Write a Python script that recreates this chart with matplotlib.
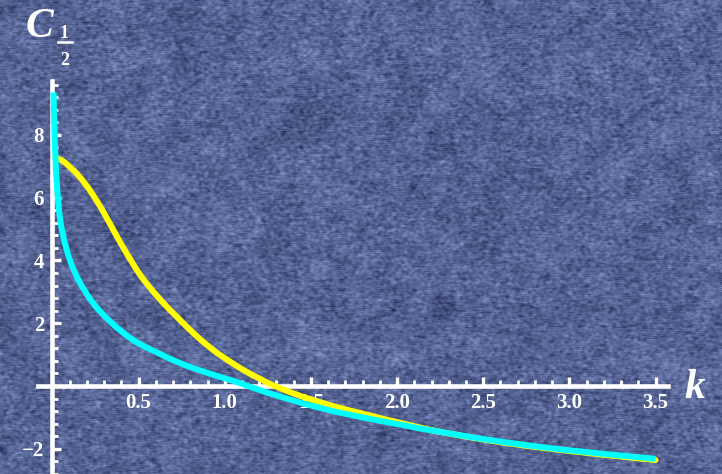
import numpy as np
import matplotlib
matplotlib.use('Agg')
import matplotlib.pyplot as plt
from matplotlib.lines import Line2D
from matplotlib.ticker import FixedLocator

# curve readings (k, C_1/2)
k_cyan = [0.006, 0.009, 0.013, 0.021, 0.035, 0.05, 0.067, 0.09, 0.115, 0.143,
          0.173, 0.21, 0.251, 0.31, 0.367, 0.425, 0.483, 0.54, 0.599, 0.676,
          0.77, 0.869, 0.966, 1.063, 1.16, 1.257, 1.353, 1.45, 1.55, 1.643,
          1.74, 1.837, 1.93, 2.03, 2.13, 2.23, 2.42, 2.61, 2.8, 3.0, 3.25, 3.5]
c_cyan = [9.35, 8.6, 7.83, 6.77, 5.71, 5.1, 4.65, 4.19, 3.80, 3.46,
          3.16, 2.83, 2.53, 2.18, 1.89, 1.63, 1.41, 1.24, 1.09, 0.88,
          0.66, 0.47, 0.30, 0.14, -0.05, -0.23, -0.39, -0.55, -0.69, -0.82,
          -0.93, -1.04, -1.14, -1.24, -1.35, -1.44, -1.62, -1.78, -1.92, -2.05,
          -2.19, -2.32]
k_yellow = [0.028, 0.05, 0.072, 0.096, 0.135, 0.173, 0.21, 0.251, 0.29, 0.328,
            0.366, 0.405, 0.445, 0.483, 0.52, 0.56, 0.6, 0.637, 0.68, 0.724,
            0.773, 0.82, 0.869, 0.92, 0.966, 1.015, 1.063, 1.11, 1.16, 1.21,
            1.257, 1.305, 1.353, 1.4, 1.45, 1.55, 1.643, 1.74, 1.837, 1.93,
            2.03, 2.13, 2.23, 2.42, 2.61, 2.8, 3.0, 3.25, 3.5]
c_yellow = [7.25, 7.20, 7.12, 7.00, 6.80, 6.56, 6.29, 5.95, 5.60, 5.22,
            4.84, 4.46, 4.09, 3.75, 3.45, 3.17, 2.91, 2.68, 2.43, 2.19,
            1.92, 1.67, 1.43, 1.20, 1.01, 0.83, 0.66, 0.50, 0.35, 0.21,
            0.08, -0.03, -0.14, -0.24, -0.34, -0.51, -0.66, -0.80, -0.93, -1.06,
            -1.19, -1.32, -1.44, -1.63, -1.80, -1.94, -2.07, -2.22, -2.36]

x_ticks = [0.5, 1.0, 1.5, 2.0, 2.5, 3.0, 3.5]
x_tick_labels = ['0.5', '1.0', '1.5', '2.0', '2.5', '3.0', '3.5']
y_ticks = [-2, 2, 4, 6, 8]
y_tick_labels = ['\u22122', '2', '4', '6', '8']

W, H, DPI = 722, 474, 100
# pixel -> data mapping of the original picture
x0_px, x_scale = 52.5, 172.3
y0_px, y_scale = 386.0, 31.4
xmin, xmax = (0 - x0_px) / x_scale, (W - x0_px) / x_scale
ymin, ymax = (y0_px - H) / y_scale, y0_px / y_scale


def blur(a, nx, ny):
    out = a.copy()
    for _ in range(nx):
        out = (np.roll(out, 1, 1) + out + np.roll(out, -1, 1)) / 3
    for _ in range(ny):
        out = (np.roll(out, 1, 0) + out + np.roll(out, -1, 0)) / 3
    return out


# fabric-like blue background
rng = np.random.default_rng(11)
fine = blur(rng.normal(size=(H, W)), 2, 1)
streak = blur(rng.normal(size=(H, W)), 12, 0)
coarse = blur(rng.normal(size=(H // 8 + 2, W // 8 + 2)), 1, 1)
coarse = np.kron(coarse, np.ones((8, 8)))[:H, :W]
coarse = blur(coarse, 4, 4)
tex = (fine / fine.std() * 0.7 + streak / streak.std() * 0.3
       + coarse / coarse.std() * 0.3)
base = np.array([86, 100, 148]) / 255
spread = np.array([15, 16, 18]) / 255
img = np.clip(base + tex[..., None] * spread, 0, 1)

fig = plt.figure(figsize=(W / DPI, H / DPI), dpi=DPI)
ax = fig.add_axes([0, 0, 1, 1])
ax.imshow(img, extent=(xmin, xmax, ymin, ymax), aspect='auto', zorder=0,
          interpolation='bilinear')
ax.set_xlim(xmin, xmax)
ax.set_ylim(ymin, ymax)

ax.plot(k_yellow, c_yellow, color='#ffff00', lw=4.3, solid_capstyle='round',
        solid_joinstyle='round', zorder=3)
ax.plot(k_cyan, c_cyan, color='#00ffff', lw=4.3, solid_capstyle='butt',
        solid_joinstyle='round', zorder=4)

for side in ['top', 'right']:
    ax.spines[side].set_visible(False)
ax.spines['left'].set_position(('data', 0))
ax.spines['bottom'].set_position(('data', 0))
ax.spines['left'].set_bounds(-2.85, 9.7)
ax.spines['bottom'].set_bounds(-0.085, 3.57)
for side in ['left', 'bottom']:
    ax.spines[side].set_color('white')
    ax.spines[side].set_linewidth(3.3)
    ax.spines[side].set_zorder(2.5)

ax.set_xticks(x_ticks)
ax.set_xticklabels(x_tick_labels)
ax.set_yticks(y_ticks)
ax.set_yticklabels(y_tick_labels)
x_minor = [round(v, 1) for v in np.arange(0.1, 3.55, 0.1)]
y_minor = [round(v, 1) for v in np.arange(-2.8, 9.7, 0.4)]
ax.xaxis.set_minor_locator(FixedLocator([v for v in x_minor if v not in x_ticks]))
ax.yaxis.set_minor_locator(FixedLocator([v for v in y_minor if v not in y_ticks]))
ax.tick_params(which='major', direction='in', length=6.5, width=2.4, color='white',
               labelcolor='white', labelsize=15)
ax.tick_params(which='minor', direction='in', length=4.2, width=2.0, color='white')
ax.tick_params(axis='x', pad=5)
ax.tick_params(axis='y', pad=6)
for lab in ax.get_xticklabels() + ax.get_yticklabels():
    lab.set_fontfamily('Liberation Serif')
    lab.set_fontweight('bold')

# axis labels
serif = dict(family='Liberation Serif', weight='bold', color='white')
fig.text(26 / W, 1 - 37 / H, 'C', style='italic', fontsize=30, ha='left',
         va='baseline', **serif)
fig.text(64.5 / W, 1 - 38 / H, '1', fontsize=13, ha='center', va='baseline', **serif)
fig.text(65 / W, 1 - 65 / H, '2', fontsize=13, ha='center', va='baseline', **serif)
fig.add_artist(Line2D([58 / W, 72 / W], [1 - 41.5 / H, 1 - 41.5 / H],
                      color='white', lw=1.8, transform=fig.transFigure))
fig.text(684 / W, 1 - 398 / H, 'k', style='italic', fontsize=30, ha='left',
         va='baseline', **serif)

fig.savefig('out.png', dpi=DPI)
